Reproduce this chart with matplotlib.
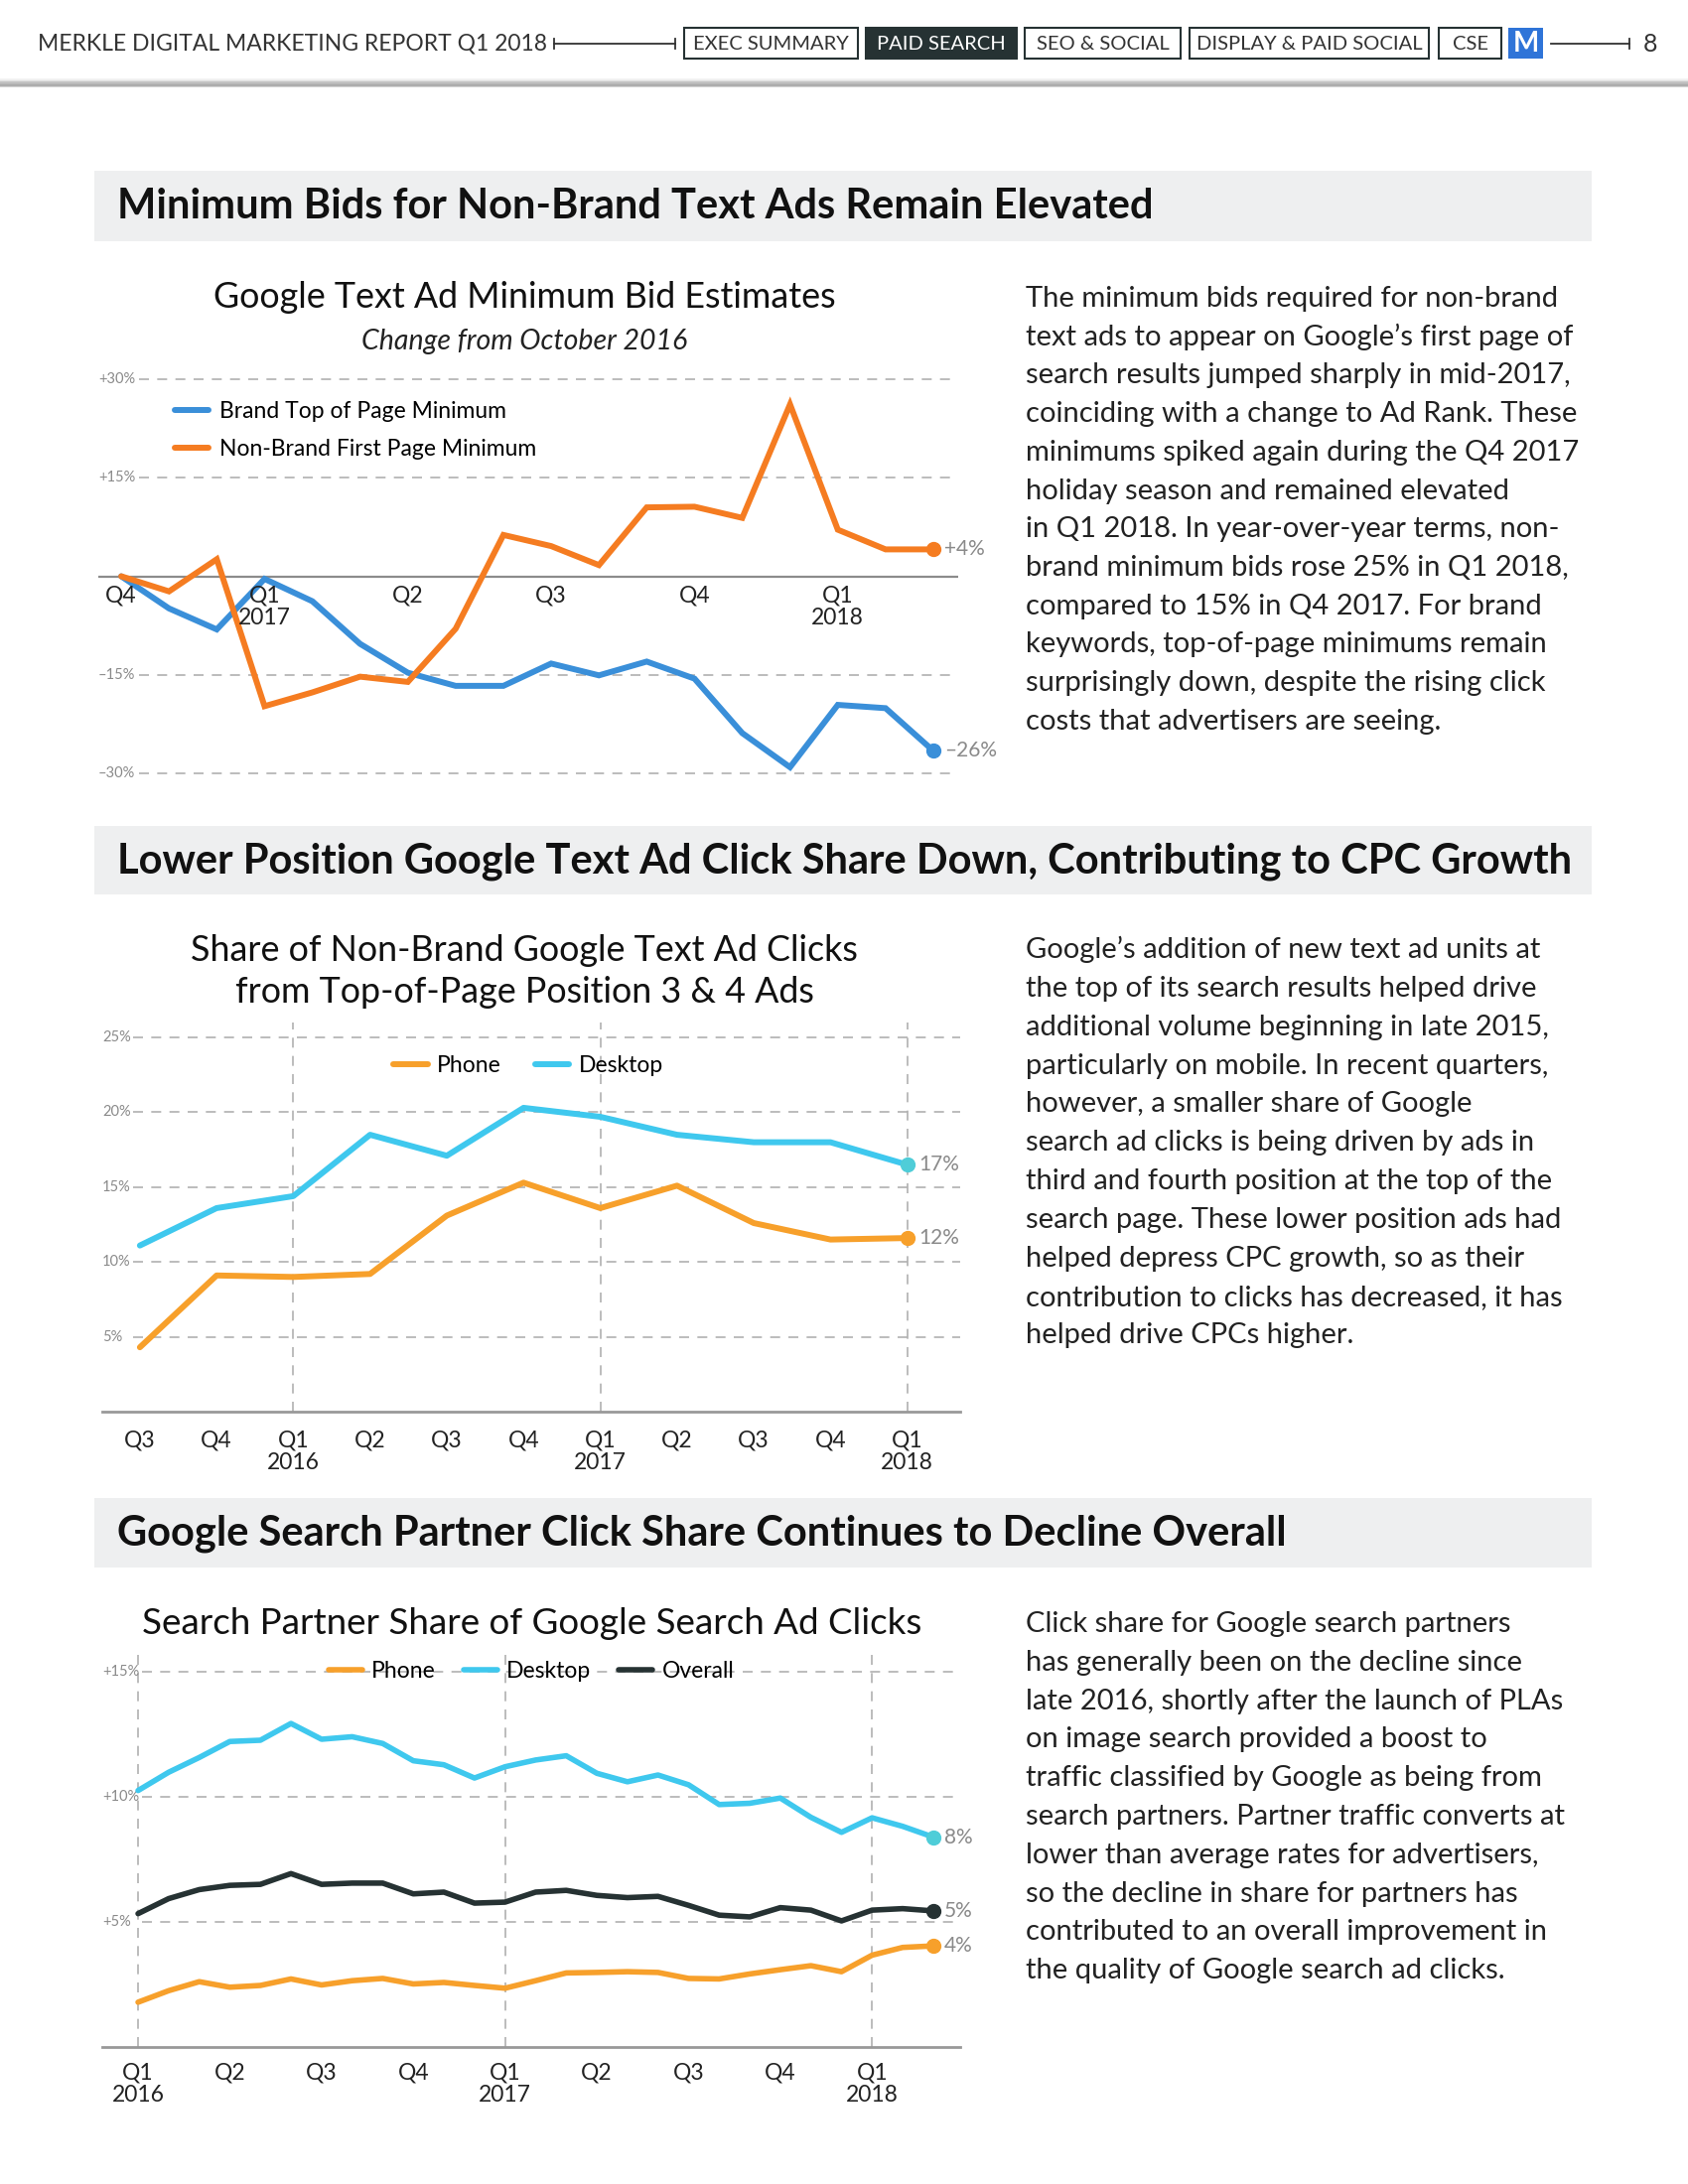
import matplotlib
matplotlib.use('Agg')
import matplotlib.pyplot as plt
from matplotlib.patches import Rectangle
from matplotlib.lines import Line2D

plt.rcParams['font.family'] = ['Lato', 'DejaVu Sans']

W, H = 1700, 2200

# chart 1: monthly, Oct 2016 - Mar 2018, % change from Oct 2016
bid_ticks = ['Q4', '', '', 'Q1\n2017', '', '', 'Q2', '', '', 'Q3', '', '',
             'Q4', '', '', 'Q1\n2018', '', '']
brand_min = [0, -4.9, -8.1, -0.4, -3.8, -10.3, -14.7, -16.7, -16.7, -13.3,
             -15.1, -13.0, -15.6, -23.9, -29.1, -19.6, -20.1, -26.6]
nonbrand_min = [0, -2.3, 2.6, -19.8, -17.7, -15.3, -16.1, -8.0, 6.3, 4.6,
                1.7, 10.5, 10.6, 8.9, 26.2, 7.1, 4.1, 4.1]

# chart 2: quarterly, Q3 2015 - Q1 2018
share_ticks = ['Q3', 'Q4', 'Q1\n2016', 'Q2', 'Q3', 'Q4', 'Q1\n2017', 'Q2',
               'Q3', 'Q4', 'Q1\n2018']
share_phone = [4.3, 9.1, 9.0, 9.2, 13.1, 15.3, 13.6, 15.1, 12.6, 11.5, 11.6]
share_desktop = [11.1, 13.6, 14.4, 18.5, 17.1, 20.3, 19.7, 18.5, 18.0, 18.0, 16.5]

# chart 3: monthly, Jan 2016 - Mar 2018
partner_ticks = ['Q1\n2016', '', '', 'Q2', '', '', 'Q3', '', '', 'Q4', '', '',
                 'Q1\n2017', '', '', 'Q2', '', '', 'Q3', '', '', 'Q4', '', '',
                 'Q1\n2018', '', '']
partner_phone = [1.79, 2.25, 2.61, 2.39, 2.46, 2.72, 2.48, 2.65, 2.74, 2.52,
                 2.58, 2.46, 2.35, 2.65, 2.96, 2.98, 3.01, 2.98, 2.74, 2.72,
                 2.92, 3.09, 3.25, 3.01, 3.67, 3.98, 4.04]
partner_desktop = [10.25, 10.98, 11.57, 12.21, 12.26, 12.93, 12.30, 12.40,
                   12.13, 11.44, 11.28, 10.75, 11.20, 11.47, 11.64, 10.94,
                   10.60, 10.87, 10.48, 9.69, 9.74, 9.95, 9.18, 8.58, 9.16,
                   8.82, 8.39]
partner_overall = [5.33, 5.93, 6.29, 6.46, 6.50, 6.93, 6.50, 6.55, 6.55, 6.12,
                   6.19, 5.75, 5.79, 6.19, 6.26, 6.06, 5.97, 6.02, 5.66, 5.27,
                   5.20, 5.57, 5.47, 5.04, 5.47, 5.53, 5.44]

nav_items = ['EXEC SUMMARY', 'PAID SEARCH', 'SEO & SOCIAL',
             'DISPLAY & PAID SOCIAL', 'CSE']

text1 = ["The minimum bids required for non-brand",
         "text ads to appear on Google’s first page of",
         "search results jumped sharply in mid-2017,",
         "coinciding with a change to Ad Rank. These",
         "minimums spiked again during the Q4 2017",
         "holiday season and remained elevated",
         "in Q1 2018. In year-over-year terms, non-",
         "brand minimum bids rose 25% in Q1 2018,",
         "compared to 15% in Q4 2017. For brand",
         "keywords, top-of-page minimums remain",
         "surprisingly down, despite the rising click",
         "costs that advertisers are seeing."]
text2 = ["Google’s addition of new text ad units at",
         "the top of its search results helped drive",
         "additional volume beginning in late 2015,",
         "particularly on mobile. In recent quarters,",
         "however, a smaller share of Google",
         "search ad clicks is being driven by ads in",
         "third and fourth position at the top of the",
         "search page. These lower position ads had",
         "helped depress CPC growth, so as their",
         "contribution to clicks has decreased, it has",
         "helped drive CPCs higher."]
text3 = ["Click share for Google search partners",
         "has generally been on the decline since",
         "late 2016, shortly after the launch of PLAs",
         "on image search provided a boost to",
         "traffic classified by Google as being from",
         "search partners. Partner traffic converts at",
         "lower than average rates for advertisers,",
         "so the decline in share for partners has",
         "contributed to an overall improvement in",
         "the quality of Google search ad clicks."]

ORANGE = '#f57c21'
BLUE = '#3a8fd9'
GOLD = '#f7a02b'
CYAN = '#3fc8ee'
DARK = '#263233'
GRID = '#b0b0b0'
LBL = '#8a8a8a'


def fx(x):
    return x / W


def fy(y):
    return 1 - y / H


def box(x0, y0, x1, y1, **kw):
    fig.add_artist(Rectangle((fx(x0), fy(y1)), fx(x1) - fx(x0), fy(y0) - fy(y1),
                             transform=fig.transFigure, **kw))


def hline(x0, x1, y, **kw):
    fig.add_artist(Line2D([fx(x0), fx(x1)], [fy(y), fy(y)],
                          transform=fig.transFigure, **kw))


def vtick(x, y, **kw):
    fig.add_artist(Line2D([fx(x)] * 2, [fy(y - 5), fy(y + 5)],
                          transform=fig.transFigure, **kw))


def make_ax(l, t, r, b):
    ax = fig.add_axes([fx(l), fy(b), fx(r) - fx(l), fy(t) - fy(b)])
    ax.set_facecolor('none')
    for s in ax.spines.values():
        s.set_visible(False)
    return ax


def end_label(ax, x, y, txt):
    ax.annotate(txt, (x, y), xytext=(8, 0), textcoords='offset points',
                va='center', ha='left', fontsize=15, color=LBL)


fig = plt.figure(figsize=(17, 22), dpi=100)

# ---- page header
fig.text(fx(38), fy(44), 'MERKLE DIGITAL MARKETING REPORT Q1 2018', fontsize=16.5,
         color='#333', va='center')
hline(558, 680, 44, color='#333', lw=1.3)
vtick(558, 44, color='#333', lw=1.3)
vtick(680, 44, color='#333', lw=1.3)
nav_x = [(689, 864), (872, 1024), (1032, 1189), (1198, 1439), (1449, 1512)]
for name, (a, b) in zip(nav_items, nav_x):
    sel = name == 'PAID SEARCH'
    box(a, 28, b, 59, facecolor=DARK if sel else 'white', edgecolor=DARK, lw=1.5)
    fig.text(fx((a + b) / 2), fy(44), name, ha='center', va='center', fontsize=14.5,
             color='white' if sel else '#333')
box(1519, 28, 1554, 59, facecolor='#2f74d8', edgecolor='none')
fig.text(fx(1536.5), fy(44), 'M', ha='center', va='center', fontsize=20,
         weight='bold', color='white')
hline(1562, 1641, 44, color='#333', lw=1.3)
vtick(1641, 44, color='#333', lw=1.3)
fig.text(fx(1655), fy(44), '8', va='center', fontsize=18, color='#333')
for i, a in enumerate([0.15, 0.3, 0.5, 0.7, 0.55]):
    hline(0, W, 80 + i * 1.6, color='#9a9a9a', lw=1.8, alpha=a)

# ---- section banners
sections = [(172, 243, 'Minimum Bids for Non-Brand Text Ads Remain Elevated'),
            (832, 901, 'Lower Position Google Text Ad Click Share Down, Contributing to CPC Growth'),
            (1509, 1579, 'Google Search Partner Click Share Continues to Decline Overall')]
for t, b, title in sections:
    box(95, t, 1603, b, facecolor='#eeeff0', edgecolor='none')
    fig.text(fx(118), fy((t + b) / 2 + 1), title, va='center', fontsize=30,
             weight='bold', color='#111')

# ---- body text
for lines, y0, step in [(text1, 309, 38.7), (text2, 965, 38.85), (text3, 1644, 38.8)]:
    for i, ln in enumerate(lines):
        fig.text(fx(1033), fy(y0 + i * step), ln, va='baseline', fontsize=21,
                 color='#222')

# ---- chart 1
fig.text(fx(528), fy(299), 'Google Text Ad Minimum Bid Estimates', ha='center',
         va='center', fontsize=25.8, color='#111')
fig.text(fx(528), fy(344), 'Change from October 2016', ha='center', va='center',
         fontsize=20.5, style='italic', color='#222')
ax1 = make_ax(99, 369, 965, 792)
ax1.set_xlim(-0.48, 17.52)
ax1.set_ylim(-32, 32)
ax1.set_xticks([])
ax1.set_yticks([])
for v, lab in [(30, '+30%'), (15, '+15%'), (-15, '–15%'), (-30, '–30%')]:
    ax1.axhline(v, xmin=0.047, color=GRID, lw=1.2, ls=(0, (6, 5)), zorder=1)
    ax1.text(-0.48, v, lab, va='center', ha='left', fontsize=10.5, color=LBL)
ax1.axhline(0, color='#8c8c8c', lw=1.6, zorder=1)
xs1 = list(range(len(brand_min)))
l1, = ax1.plot(xs1, brand_min, color=BLUE, lw=4.3, solid_capstyle='round',
               solid_joinstyle='miter', zorder=3, label='Brand Top of Page Minimum')
l2, = ax1.plot(xs1, nonbrand_min, color=ORANGE, lw=4.3, solid_capstyle='round',
               solid_joinstyle='miter', zorder=3, label='Non-Brand First Page Minimum')
ax1.plot(xs1[-1], brand_min[-1], 'o', color=BLUE, ms=10, zorder=4)
ax1.plot(xs1[-1], nonbrand_min[-1], 'o', color=ORANGE, ms=10, zorder=4)
end_label(ax1, xs1[-1], nonbrand_min[-1], '+4%')
end_label(ax1, xs1[-1], brand_min[-1], '–26%')
for i, lab in enumerate(bid_ticks):
    if lab:
        ax1.text(i, -1.3, lab, ha='center', va='top', fontsize=16.5,
                 linespacing=1.1, color='#222')
ax1.legend(handles=[l1, l2], loc='upper left', bbox_to_anchor=(fx(176), fy(404)),
           bbox_transform=fig.transFigure, frameon=False, fontsize=16.5,
           handlelength=1.5, handletextpad=0.45, labelspacing=0.75, borderpad=0,
           borderaxespad=0)

# ---- chart 2
fig.text(fx(528), fy(958), 'Share of Non-Brand Google Text Ad Clicks', ha='center',
         va='center', fontsize=25.8, color='#111')
fig.text(fx(528), fy(1000), 'from Top-of-Page Position 3 & 4 Ads', ha='center',
         va='center', fontsize=25.8, color='#111')
ax2 = make_ax(103, 1030, 967, 1422)
ax2.set_xlim(-0.49, 10.69)
ax2.set_ylim(0, 26)
ax2.spines['bottom'].set_visible(True)
ax2.spines['bottom'].set_color('#999')
ax2.spines['bottom'].set_linewidth(2)
xs2 = list(range(len(share_phone)))
ax2.set_xticks(xs2)
ax2.set_xticklabels(share_ticks, fontsize=16.5, color='#222', linespacing=1.1)
ax2.tick_params(axis='x', length=0, pad=13)
ax2.set_yticks([])
for v in [5, 10, 15, 20, 25]:
    ax2.axhline(v, xmin=0.036, color=GRID, lw=1.2, ls=(0, (6, 5)), zorder=1)
    ax2.text(-0.49, v, f'{v}%', va='center', ha='left', fontsize=10.5, color=LBL)
for i, lab in enumerate(share_ticks):
    if '\n' in lab:
        ax2.axvline(i, color=GRID, lw=1.2, ls=(0, (6, 5)), zorder=1)
p1, = ax2.plot(xs2, share_phone, color=GOLD, lw=4.3, solid_capstyle='round',
               zorder=3, label='Phone')
p2, = ax2.plot(xs2, share_desktop, color=CYAN, lw=4.3, solid_capstyle='round',
               zorder=3, label='Desktop')
ax2.plot(xs2[-1], share_phone[-1], 'o', color=GOLD, ms=10, zorder=4)
ax2.plot(xs2[-1], share_desktop[-1], 'o', color='#4fcdd8', ms=10, zorder=4)
end_label(ax2, xs2[-1], share_desktop[-1], '17%')
end_label(ax2, xs2[-1], share_phone[-1], '12%')
ax2.legend(handles=[p1, p2], loc='center', bbox_to_anchor=(fx(532), fy(1074)),
           bbox_transform=fig.transFigure, frameon=False, fontsize=16.5, ncol=2,
           handlelength=1.5, handletextpad=0.4, columnspacing=1.5, borderpad=0)

# ---- chart 3
fig.text(fx(536), fy(1635), 'Search Partner Share of Google Search Ad Clicks',
         ha='center', va='center', fontsize=26.5, color='#111')
ax3 = make_ax(103, 1662, 967, 2062)
ax3.set_xlim(-1.17, 26.88)
ax3.set_ylim(0, 15.87)
ax3.spines['bottom'].set_visible(True)
ax3.spines['bottom'].set_color('#999')
ax3.spines['bottom'].set_linewidth(2)
xs3 = list(range(len(partner_phone)))
tick_pos = [i for i, lab in enumerate(partner_ticks) if lab]
ax3.set_xticks(tick_pos)
ax3.set_xticklabels([partner_ticks[i] for i in tick_pos], fontsize=16.5,
                    color='#222', linespacing=1.1)
ax3.tick_params(axis='x', length=0, pad=11)
ax3.set_yticks([])
for v in [5, 10, 15]:
    ax3.axhline(v, xmin=0.046, color=GRID, lw=1.2, ls=(0, (6, 5)), zorder=1)
    ax3.text(-1.17, v, f'+{v}%', va='center', ha='left', fontsize=10.5, color=LBL)
for i, lab in enumerate(partner_ticks):
    if '\n' in lab:
        ax3.axvline(i, color=GRID, lw=1.2, ls=(0, (6, 5)), zorder=1)
q1, = ax3.plot(xs3, partner_phone, color=GOLD, lw=4, solid_capstyle='round',
               zorder=3, label='Phone')
q2, = ax3.plot(xs3, partner_desktop, color=CYAN, lw=4, solid_capstyle='round',
               zorder=3, label='Desktop')
q3, = ax3.plot(xs3, partner_overall, color=DARK, lw=4, solid_capstyle='round',
               zorder=3, label='Overall')
ax3.plot(xs3[-1], partner_phone[-1], 'o', color=GOLD, ms=10, zorder=4)
ax3.plot(xs3[-1], partner_desktop[-1], 'o', color='#4fcdd8', ms=10, zorder=4)
ax3.plot(xs3[-1], partner_overall[-1], 'o', color=DARK, ms=10, zorder=4)
end_label(ax3, xs3[-1], partner_desktop[-1], '8%')
end_label(ax3, xs3[-1], partner_overall[-1], '5%')
end_label(ax3, xs3[-1], partner_phone[-1], '4%')
ax3.legend(handles=[q1, q2, q3], loc='center', bbox_to_anchor=(fx(535), fy(1684)),
           bbox_transform=fig.transFigure, frameon=False, fontsize=16.5, ncol=3,
           handlelength=1.5, handletextpad=0.4, columnspacing=1.2, borderpad=0)

fig.savefig('out.png', dpi=100, facecolor='white')
